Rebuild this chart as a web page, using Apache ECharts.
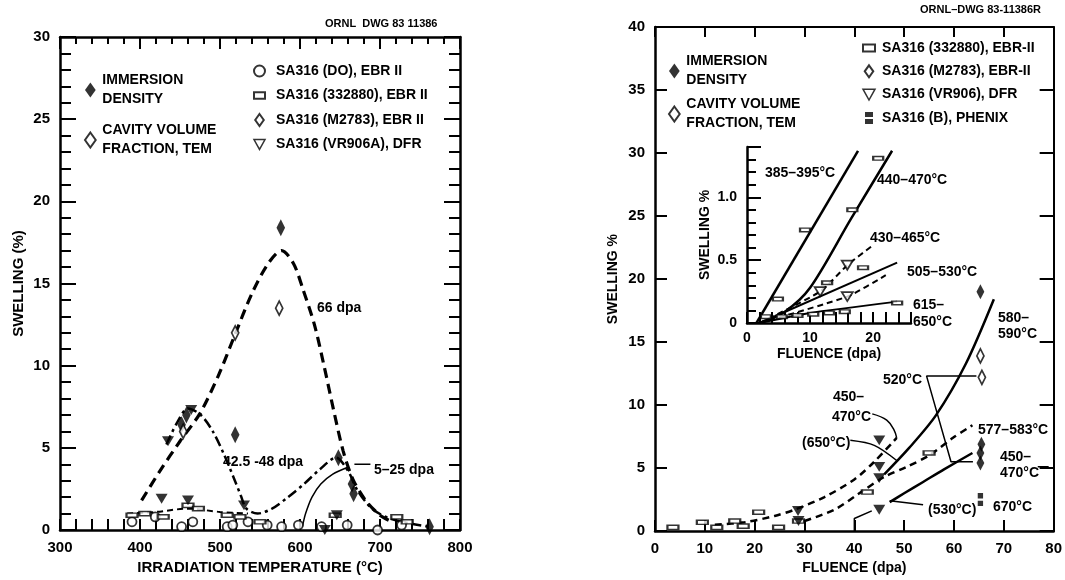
<!DOCTYPE html>
<html>
<head>
<meta charset="utf-8">
<script src="https://cdn.jsdelivr.net/npm/echarts@6/dist/echarts.min.js"></script>
<style>
html, body { margin: 0; padding: 0; background: #fff; }
#chart { width: 1065px; height: 580px; }
</style>
</head>
<body>
<div id="chart"></div>
<script>
// ---- left panel: swelling vs irradiation temperature ----
var tempImmersion = [[576, 18.4], [519, 5.8], [452, 6.4], [458, 7.0], [648, 4.4], [665, 2.8], [667, 2.2], [762, 0.2]];
var tempCavity = [[574, 13.5], [519, 12.0], [454, 6.0]];
var tempDO = [[390, 0.5], [419, 0.8], [452, 0.2], [466, 0.5], [509, 0.2], [516, 0.3], [535, 0.5], [559, 0.3],
    [577, 0.2], [598, 0.3], [627, 0.2], [659, 0.3], [697, 0.0], [727, 0.3]];
var tempRect = [[390, 0.9], [406, 1.0], [429, 0.8], [460, 1.5], [473, 1.3], [509, 0.9], [525, 0.8], [550, 0.5],
    [644, 0.9], [721, 0.8], [734, 0.5]];
var tempTri = [[435, 5.4], [464, 7.3], [427, 1.9], [460, 1.8], [530, 1.5], [646, 0.9], [631, 0.0]];
var curve66 = [[402, 1.8], [425, 3.6], [450, 5.4], [475, 7.1], [498, 9.4], [518, 11.8], [540, 14.4], [560, 16.2],
    [577, 17.0], [592, 16.2], [604, 14.6], [618, 12.5], [630, 10.0], [642, 7.3], [654, 4.8], [666, 3.1],
    [682, 1.8], [700, 0.9], [715, 0.5]];
var curve42 = [[433, 5.2], [446, 6.5], [460, 7.4], [476, 7.0], [491, 6.0], [505, 4.6], [517, 3.2], [526, 2.1],
    [533, 1.3], [547, 1.0], [565, 1.3], [585, 2.0], [605, 2.8], [625, 3.7], [645, 4.4], [660, 3.6],
    [672, 2.4], [690, 1.3], [712, 0.7], [737, 0.4], [762, 0.2]];
var curve525 = [[603, 0.2], [607, 1.0], [615, 2.0], [626, 2.8], [641, 3.4], [659, 3.8]];
var lowRectLine = [[384, 1.0], [420, 1.1], [460, 1.3], [500, 1.1], [535, 1.0]];
var leader525 = [[668, 4.0], [688, 4.0]];

// ---- right panel: swelling vs fluence ----
var flImmersion = [[65.3, 19.0], [65.5, 6.9], [65.3, 6.2], [65.3, 5.4]];
var flCavity = [[65.3, 13.9], [65.6, 12.2]];
var flPhenix = [[65.3, 2.5]];
var flRect = [[3.6, 0.3], [9.5, 0.7], [12.4, 0.3], [16.0, 0.8], [17.7, 0.4], [20.8, 1.5], [24.8, 0.3],
    [28.8, 0.8], [42.6, 3.1], [55.0, 6.2]];
var flTri = [[45, 7.2], [45, 5.1], [45, 4.2], [45, 1.7], [28.7, 1.6], [28.8, 0.8]];
var line580 = [[46, 4.5], [51, 6.6], [56.4, 9.2], [62.4, 13.3], [68, 18.4]];
var dash450 = [[12, 0.5], [18, 0.7], [24, 1.2], [28, 1.7], [34, 2.7], [40, 4.1], [44, 5.5], [48.5, 7.4]];
var dash577 = [[30, 0.8], [36, 1.7], [41, 3.0], [46, 4.3], [50.5, 5.1], [55, 6.0], [59.8, 7.4], [63.7, 8.4]];
var line530 = [[47.1, 2.3], [50, 3.0], [53.8, 3.9], [58, 4.9], [63.7, 6.2]];
var line40 = [[40, 0], [40, 1.0], [43.5, 1.6]];
var bracket520 = [[64.5, 12.3], [54.5, 12.3], [59.4, 5.5], [63.8, 5.5]];
var leader450 = [[43.6, 9.3], [46.5, 8.8], [48, 8.0], [48.5, 7.4]];
var leader650 = [[39.2, 7.2], [44, 6.8], [48.5, 5.6]];
var leader530 = [[47.1, 2.4], [53.8, 2.1]];
var leader450b = [[76.8, 5.1], [79, 5.1]];

// ---- inset: low fluence ----
var inRect = [[4.9, 0.19], [9.2, 0.74], [16.7, 0.9], [20.8, 1.31], [12.7, 0.32], [18.4, 0.44], [23.8, 0.16],
    [3, 0.05], [5.5, 0.05], [8, 0.06], [10.5, 0.07], [13, 0.08], [15.5, 0.09]];
var inTri = [[11.6, 0.25], [15.9, 0.46], [15.9, 0.21]];
var in385 = [[1.5, 0], [17.6, 1.37]];
var in440 = [[2, 0], [6, 0.09], [10, 0.28], [16.5, 0.83], [23, 1.37]];
var in430 = [[2, 0], [11.6, 0.25], [15.9, 0.46], [20, 0.62]];
var in505 = [[2, 0], [23.8, 0.48]];
var in505b = [[2, 0], [15.9, 0.21], [22, 0.38]];
var in615 = [[2, 0], [10, 0.08], [23.8, 0.17]];

var FONT = 'Liberation Sans';
var DIAMOND = 'path://M5,0L10,7L5,14L0,7Z';
var TRI_DOWN = 'path://M0,0L10,0L5,9Z';
var RECT = 'path://M0,0L10,0L10,6L0,6Z';
var PHENIX = 'path://M0,0h8v5h-8z M0,7h8v5h-8z';

var chart = echarts.init(document.getElementById('chart'));

function boldText(size) {
    return { color: '#000', fontSize: size, fontWeight: 'bold', fontFamily: FONT };
}

function axis(grid, pos, min, max, interval, o) {
    return {
        type: 'value', gridIndex: grid, position: pos, min: min, max: max, interval: interval,
        axisLine: { onZero: false, lineStyle: { color: '#000', width: o.lw || 2.5 } },
        axisTick: { show: o.tick !== false, inside: true, length: o.major, lineStyle: { color: '#000', width: 2 } },
        minorTick: { show: !!o.minor, splitNumber: o.split || 5, length: o.minor, lineStyle: { color: '#000', width: 2 } },
        axisLabel: {
            show: !!o.label, margin: o.margin || 10, showMaxLabel: o.showMax !== false,
            formatter: o.fmt, textStyle: boldText(o.fs || 15)
        },
        splitLine: { show: false },
        name: o.name || '', nameLocation: 'middle', nameGap: o.gap || 0,
        nameTextStyle: boldText(o.nfs || 14)
    };
}

function scatter(name, data, x, y, symbol, size, open) {
    return {
        name: name, type: 'scatter', xAxisIndex: x, yAxisIndex: y, data: data, z: 4,
        symbol: symbol, symbolSize: size, symbolKeepAspect: true,
        itemStyle: open ? { color: '#fff', borderColor: '#000', borderWidth: 1.8 } : { color: '#000' }
    };
}

function curve(data, x, y, width, dash, smooth) {
    return {
        type: 'line', xAxisIndex: x, yAxisIndex: y, data: data, z: 3, symbol: 'none',
        smooth: smooth || false, silent: true,
        lineStyle: { color: '#000', width: width, type: dash || 'solid' }
    };
}

var OPEN = { color: '#fff', borderColor: '#000', borderWidth: 1.5 };
var legendText = boldText(14);

var notes = [
    // left panel
    [325, 24, 'ORNL  DWG 83 11386', 11],
    [317, 308, '66 dpa', 14],
    [223, 462, '42.5 -48 dpa', 14],
    [374, 470, '5–25 dpa', 14],
    // right panel
    [920, 10, 'ORNL–DWG 83-11386R', 11],
    [998, 318, '580–', 14],
    [998, 334, '590°C', 14],
    [883, 380, '520°C', 14],
    [833, 397, '450–', 14],
    [832, 417, '470°C', 14],
    [802, 443, '(650°C)', 14],
    [978, 430, '577–583°C', 14],
    [1000, 457, '450–', 14],
    [1000, 473, '470°C', 14],
    [928, 510, '(530°C)', 14],
    [993, 507, '670°C', 14],
    // inset
    [765, 173, '385–395°C', 14],
    [877, 180, '440–470°C', 14],
    [870, 238, '430–465°C', 14],
    [907, 272, '505–530°C', 14],
    [913, 305, '615–', 14],
    [913, 322, '650°C', 14]
];

var option = {
    animation: false,
    backgroundColor: '#fff',
    grid: [
        { left: 60, top: 37, width: 400, height: 496 },
        { left: 655, top: 27, width: 404, height: 510 },
        { left: 747, top: 147, width: 164, height: 176 }
    ],
    xAxis: [
        axis(0, 'bottom', 300, 800, 100, { major: 11, minor: 11, label: true, name: 'IRRADIATION TEMPERATURE (°C)', gap: 30, nfs: 15 }),
        axis(0, 'top', 300, 800, 100, { major: 12, minor: 7 }),
        axis(1, 'bottom', 0, 80, 10, { major: 11, label: true, name: 'FLUENCE (dpa)', gap: 28, nfs: 14 }),
        axis(1, 'top', 0, 80, 10, { major: 10, lw: 2 }),
        axis(2, 'bottom', 0, 26, 10, { major: 11, minor: 11, label: true, margin: 8, fs: 14, showMax: false, name: 'FLUENCE (dpa)', gap: 24, nfs: 14 })
    ],
    yAxis: [
        axis(0, 'left', 0, 30, 5, { major: 16, minor: 11, label: true, name: 'SWELLING (%)', gap: 34, nfs: 15 }),
        axis(0, 'right', 0, 30, 5, { major: 16, minor: 11 }),
        axis(1, 'left', 0, 40, 5, { major: 12, label: true, name: 'SWELLING %', gap: 35, nfs: 14 }),
        axis(1, 'right', 0, 40, 5, { major: 14, lw: 2 }),
        axis(2, 'left', 0, 1.4, 0.5, {
            major: 14, minor: 9, label: true, margin: 10, fs: 14, showMax: false, name: 'SWELLING %', gap: 35, nfs: 14,
            fmt: function (v) { return v === 0 ? '0' : v.toFixed(1); }
        })
    ],
    legend: [
        { data: ['IMMERSION\nDENSITY', 'CAVITY VOLUME\nFRACTION, TEM'], orient: 'vertical', left: 84, top: 71,
          itemWidth: 14, itemHeight: 15, itemGap: 12, padding: 0, selectedMode: false,
          textStyle: Object.assign({ lineHeight: 19 }, legendText) },
        { data: ['SA316 (DO), EBR II', 'SA316 (332880), EBR II', 'SA316 (M2783), EBR II',
                 { name: 'SA316 (VR906A), DFR', itemStyle: OPEN }],
          orient: 'vertical', left: 253, top: 64, itemWidth: 11, itemHeight: 12, itemGap: 10.5, padding: 0,
          selectedMode: false, textStyle: Object.assign({ lineHeight: 14, padding: [0, 0, 0, 6] }, legendText) },
        { data: ['IMMERSION\nDENSITY', 'CAVITY VOLUME\nFRACTION, TEM'], orient: 'vertical', left: 668, top: 52,
          itemWidth: 14, itemHeight: 15, itemGap: 5, padding: 0, selectedMode: false,
          textStyle: Object.assign({ lineHeight: 19 }, legendText) },
        { data: ['SA316 (332880), EBR-II', 'SA316 (M2783), EBR-II',
                 { name: 'SA316 (VR906), DFR', itemStyle: OPEN }, 'SA316 (B), PHENIX'],
          orient: 'vertical', left: 862, top: 41, itemWidth: 12, itemHeight: 12, itemGap: 9.3, padding: 0,
          selectedMode: false, textStyle: Object.assign({ lineHeight: 14, padding: [0, 0, 0, 2] }, legendText) }
    ],
    graphic: notes.map(function (n) {
        return {
            type: 'text', x: n[0], y: n[1], z: 10,
            style: { text: n[2], font: 'bold ' + n[3] + 'px "' + FONT + '"', fill: '#000', verticalAlign: 'middle' }
        };
    }),
    series: [
        // left panel curves
        curve(curve66, 0, 0, 3.2, [10, 6], 0.3),
        curve(curve42, 0, 0, 2.5, [10, 4, 3, 4], 0.3),
        curve(curve525, 0, 0, 1.5, 'solid', 0.3),
        curve(lowRectLine, 0, 0, 2, [6, 4], 0.3),
        curve(leader525, 0, 0, 1.5),
        // left panel markers
        scatter('IMMERSION\nDENSITY', tempImmersion, 0, 0, DIAMOND, [12, 17], false),
        scatter('CAVITY VOLUME\nFRACTION, TEM', tempCavity, 0, 0, DIAMOND, [10, 14], true),
        scatter('SA316 (DO), EBR II', tempDO, 0, 0, 'circle', 9, true),
        scatter('SA316 (332880), EBR II', tempRect, 0, 0, RECT, [11, 7], true),
        scatter('SA316 (M2783), EBR II', [], 0, 0, DIAMOND, [10, 14], true),
        scatter('SA316 (VR906A), DFR', tempTri, 0, 0, TRI_DOWN, [12, 11], false),

        // right panel curves
        curve(line580, 2, 2, 2.5, 'solid', 0.3),
        curve(dash450, 2, 2, 2.5, [7, 5], 0.3),
        curve(dash577, 2, 2, 2.5, [7, 5], 0.3),
        curve(line530, 2, 2, 2.5, 'solid', 0.3),
        curve(line40, 2, 2, 1.5),
        curve(bracket520, 2, 2, 1.5),
        curve(leader450, 2, 2, 1.5, 'solid', 0.4),
        curve(leader650, 2, 2, 1.5, 'solid', 0.3),
        curve(leader530, 2, 2, 1.5),
        curve(leader450b, 2, 2, 1.5),
        // right panel markers
        scatter('IMMERSION\nDENSITY', flImmersion, 2, 2, DIAMOND, [11, 15], false),
        scatter('CAVITY VOLUME\nFRACTION, TEM', flCavity, 2, 2, DIAMOND, [10, 14], true),
        scatter('SA316 (332880), EBR-II', flRect, 2, 2, RECT, [11, 7], true),
        scatter('SA316 (M2783), EBR-II', [], 2, 2, DIAMOND, [10, 14], true),
        scatter('SA316 (VR906), DFR', flTri, 2, 2, TRI_DOWN, [12, 11], false),
        scatter('SA316 (B), PHENIX', flPhenix, 2, 2, PHENIX, [8, 13], false),

        // inset curves
        curve(in385, 4, 4, 2.5),
        curve(in440, 4, 4, 2.5, 'solid', 0.3),
        curve(in430, 4, 4, 2, [6, 4], 0.2),
        curve(in505, 4, 4, 2),
        curve(in505b, 4, 4, 2, [6, 4], 0.2),
        curve(in615, 4, 4, 2, 'solid', 0.2),
        // inset markers
        scatter('SA316 (332880), EBR-II', inRect, 4, 4, RECT, [10, 6], true),
        scatter('SA316 (VR906), DFR', inTri, 4, 4, TRI_DOWN, [11, 10], true)
    ]
};

chart.setOption(option);
</script>
</body>
</html>
